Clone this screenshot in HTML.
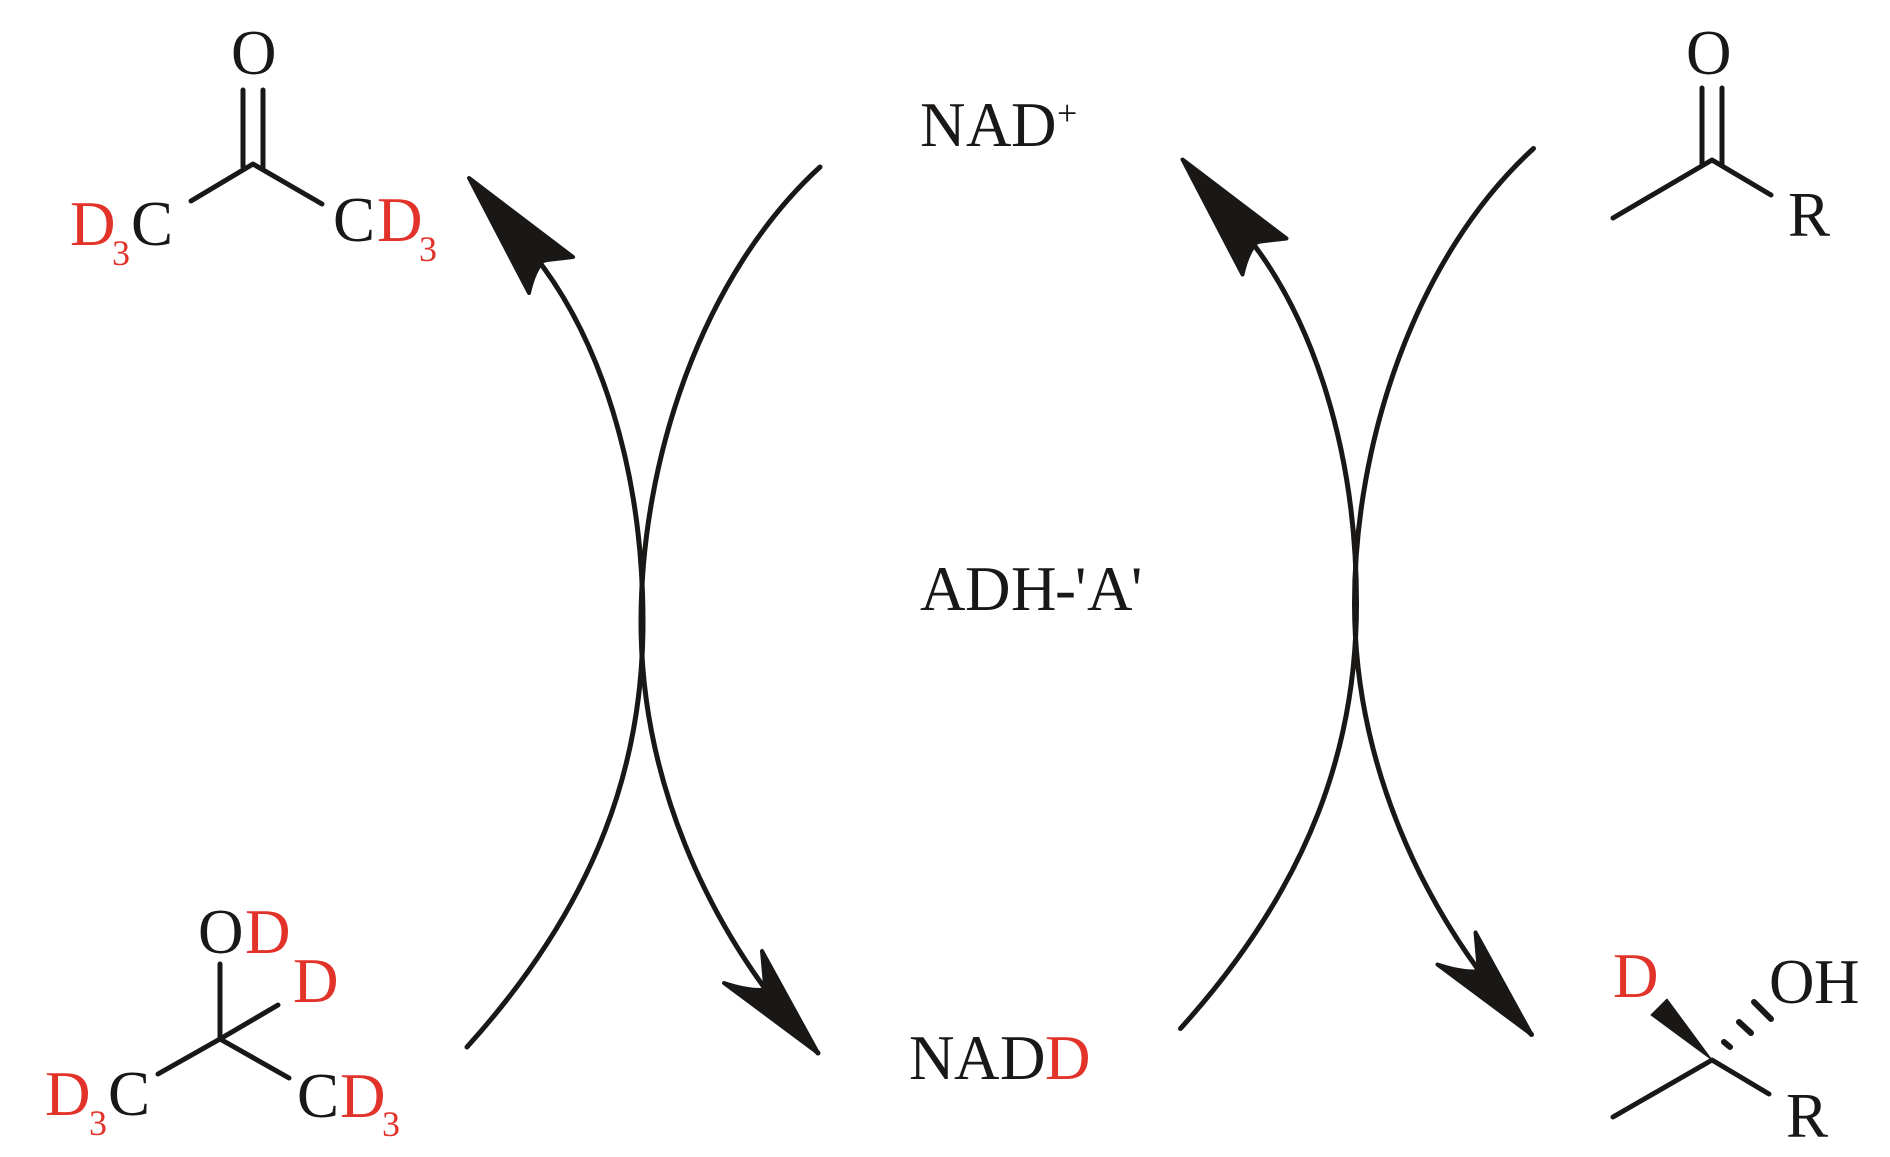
<!DOCTYPE html>
<html>
<head>
<meta charset="utf-8">
<title>ADH-'A' coupled deuteration cycle</title>
<style>
html,body{margin:0;padding:0;background:#fff}
svg{display:block}
text{font-family:"Liberation Serif",serif;font-size:63px;fill:#1a1816}
.r{fill:#e2332a}
.s{font-size:36px}
.l{fill:none;stroke:#1a1816;stroke-width:5;stroke-linecap:round;stroke-linejoin:round}
.a{fill:none;stroke:#1a1816;stroke-width:5;stroke-linecap:round}
.h{fill:#1a1816;stroke:#1a1816;stroke-width:4;stroke-linejoin:round}
</style>
</head>
<body>
<svg width="1890" height="1157" viewBox="0 0 1890 1157" xmlns="http://www.w3.org/2000/svg">
<rect width="1890" height="1157" fill="#fff"/>

<!-- Curved arrows -->
<g>
<path class="a" d="M820 167C702 275 641 460 641 622C641 770 700 925 818 1053"/>
<path class="a" d="M530 250C600 335 643 470 643 622C643 760 600 900 467 1047"/>
<path class="h" d="M469 178L573 257L547 260Q541 261 540 265Q533 275 529 293Z"/>
<path class="h" d="M818 1053L762 951L765 985Q765 990 760 990Q745 990 724 983Z"/>
</g>
<g transform="translate(713.5 -18.5)">
<path class="a" d="M820 167C702 275 641 460 641 622C641 770 700 925 818 1053"/>
<path class="a" d="M530 250C600 335 643 470 643 622C643 760 600 900 467 1047"/>
<path class="h" d="M469 178L573 257L547 260Q541 261 540 265Q533 275 529 293Z"/>
<path class="h" d="M818 1053L762 951L765 985Q765 990 760 990Q745 990 724 983Z"/>
</g>

<!-- Acetone-d6 -->
<path class="l" d="M243 90V167M263 90V167M191 201L253 164L322 204"/>
<text x="231" y="74">O</text>
<text class="r" x="70" y="245">D</text>
<text class="r s" x="112" y="265">3</text>
<text x="131" y="245">C</text>
<text x="333" y="241">C</text>
<text class="r" x="377" y="241">D</text>
<text class="r s" x="419" y="261">3</text>

<!-- Isopropanol-d8 -->
<path class="l" d="M220 964V1039M278 1005L220 1039L158 1074M220 1039L289 1078"/>
<text x="198" y="953">O</text>
<text class="r" x="245" y="953">D</text>
<text class="r" x="293" y="1002">D</text>
<text class="r" x="45" y="1115">D</text>
<text class="r s" x="89" y="1135">3</text>
<text x="108" y="1115">C</text>
<text x="297" y="1117">C</text>
<text class="r" x="340" y="1117">D</text>
<text class="r s" x="382" y="1136">3</text>

<!-- Ketone -->
<path class="l" d="M1702 88V165M1722 88V165M1613 218L1712 160L1771 195"/>
<text x="1686" y="74">O</text>
<text x="1788" y="236">R</text>

<!-- Alcohol -->
<path class="l" d="M1613 1117L1712 1060L1769 1094"/>
<polygon class="h" style="stroke-width:1" points="1667,999 1651,1015 1712,1060"/>
<path class="l" style="stroke-width:6" d="M1724 1042L1730 1047M1739 1022L1751 1033M1754 1002L1771 1019"/>
<text class="r" x="1613" y="997">D</text>
<text x="1769" y="1003">O</text>
<text x="1814" y="1003">H</text>
<text x="1786" y="1137">R</text>

<!-- Centre labels -->
<text x="920 966 1011" y="146">NAD</text>
<text class="s" x="1057" y="125">+</text>
<text x="920 965 1011 1055 1075 1087 1131" y="610">ADH-'A'</text>
<text x="909 954 1000" y="1079">NAD</text>
<text class="r" x="1045" y="1079">D</text>
</svg>
</body>
</html>
